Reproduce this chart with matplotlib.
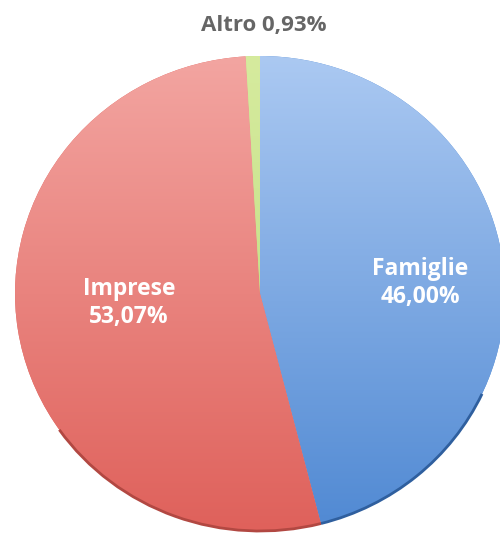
import numpy as np
import matplotlib.pyplot as plt
from matplotlib.colors import LinearSegmentedColormap
from matplotlib.patches import Arc

# Dati
categorie = ['Famiglie', 'Imprese', 'Altro']
quote = [46.00, 53.07, 0.93]
etichette = ['Famiglie\n46,00%', 'Imprese\n53,07%', 'Altro 0,93%']
colori_chiari = ['#abc9f2', '#f3a5a1', '#d6eb9e']
colori_scuri = ['#5089d3', '#df615b', '#b9d97a']
colori_bordo = ['#2f5f9e', '#b24842']

fig = plt.figure(figsize=(5, 5.35), dpi=100)
ax = fig.add_axes([0, 0, 1, 1])

wedges, _ = ax.pie(quote, startangle=90, counterclock=False,
                   colors=colori_scuri, wedgeprops=dict(linewidth=0))

# sfumatura verticale dentro ogni spicchio
grad = np.linspace(0, 1, 256).reshape(-1, 1)
for w, c1, c2 in zip(wedges, colori_chiari, colori_scuri):
    cmap = LinearSegmentedColormap.from_list('g', [c2, c1])
    im = ax.imshow(grad, cmap=cmap, origin='lower', aspect='auto',
                   extent=(-1, 1, -1, 1), zorder=2)
    im.set_clip_path(w)

# bordo scuro in basso (ombra)
confine = 90 - 360 * quote[0] / 100
ax.add_patch(Arc((0, 0), 2, 2, theta1=confine, theta2=-25,
                 color=colori_bordo[0], lw=2, zorder=3))
ax.add_patch(Arc((0, 0), 2, 2, theta1=215, theta2=confine + 360,
                 color=colori_bordo[1], lw=2, zorder=3))

ax.set_xlim(-260 / 245, 240 / 245)
ax.set_ylim(-241.5 / 237.5, 293.5 / 237.5)
ax.set_aspect('auto')
ax.axis('off')

font = ['Open Sans', 'DejaVu Sans']
fig.text(420 / 500, 1 - 283 / 535, etichette[0], ha='center', va='center', color='white',
         fontsize=16.5, fontweight='bold', family=font, linespacing=1.2)
fig.text(129 / 500, 1 - 303 / 535, etichette[1], ha='center', va='center', color='white',
         fontsize=16.5, fontweight='bold', family=font, linespacing=1.2)
fig.text(264 / 500, 1 - 26 / 535, etichette[2], ha='center', va='center', color='#666666',
         fontsize=16, fontweight='bold', family=font)

plt.savefig('out.png', dpi=100)
